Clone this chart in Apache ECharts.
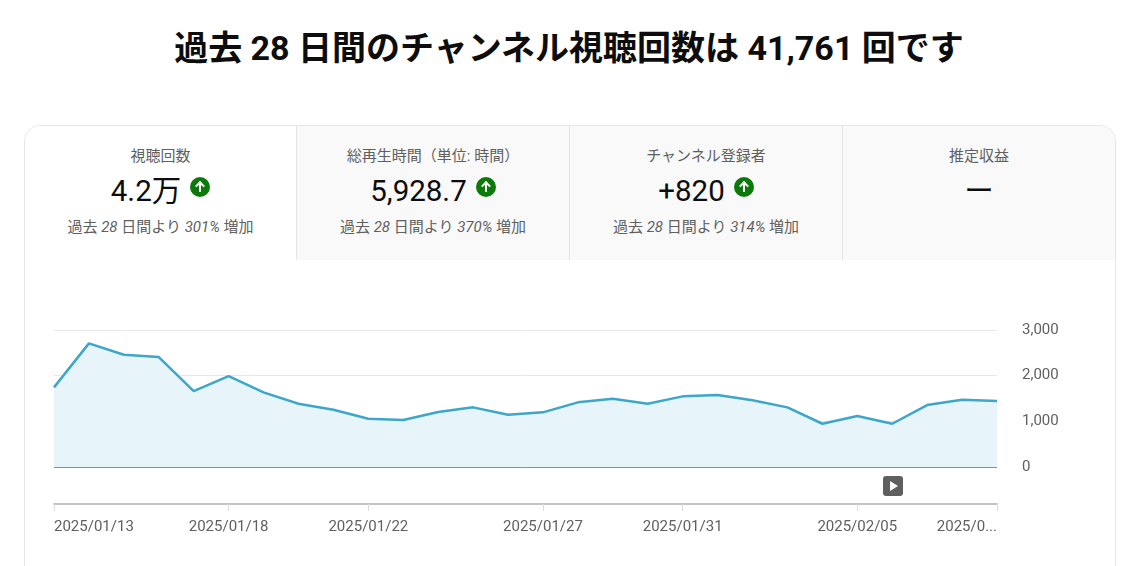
<!DOCTYPE html>
<html>
<head>
<meta charset="utf-8">
<script src="https://cdn.jsdelivr.net/npm/echarts@6/dist/echarts.min.js"></script>
<style>
	body{
		margin:0;
		width:1131px;
		height:566px;
		overflow:hidden;
		background:#fff;
		font-family:Roboto,"Noto Sans CJK JP",sans-serif;
		position:relative;
	}
	.page-title{
		position:absolute;
		left:0;
		top:26px;
		width:1138px;
		text-align:center;
		font-size:34px;
		line-height:44px;
		font-weight:700;
		color:#0d0d0d;
	}
	.card{
		position:absolute;
		left:24px;
		top:125px;
		width:1090px;
		height:520px;
		border:1px solid #e5e5e5;
		border-radius:16px;
		overflow:hidden;
	}
	.tabs{
		display:flex;
		height:134px;
	}
	.tab{
		width:273px;
		position:relative;
		text-align:center;
		background:#f9f9f9;
		border-left:1px solid #e5e5e5;
		box-sizing:border-box;
	}
	.tab.active{
		width:271px;
		background:#fff;
		border-left:none;
	}
	.tab .label{
		position:absolute;
		left:0;right:0;
		top:20px;
		font-size:15px;
		line-height:20px;
		color:#606060;
	}
	.tab .value{
		position:absolute;
		left:0;right:0;
		top:47px;
		font-size:29.5px;
		line-height:36px;
		color:#0d0d0d;
	}
	.tab .up{
		display:inline-block;
		width:20px;
		height:20px;
		border-radius:50%;
		background:#0b7a0b;
		vertical-align:4px;
		margin-left:9px;
		position:relative;
	}
	.tab .up:before{
		content:"";
		position:absolute;
		left:9px;top:6px;
		width:2px;height:9px;
		background:#fff;
	}
	.tab .up:after{
		content:"";
		position:absolute;
		width:5px;height:5px;
		border-left:2px solid #fff;
		border-top:2px solid #fff;
		transform:rotate(45deg);
		transform-origin:0 0;
		left:10px;top:4px;
	}
	.tab .sub{
		position:absolute;
		left:0;right:0;
		top:91px;
		font-size:15px;
		line-height:20px;
		color:#606060;
	}
	.tab .sub i{
		font-style:italic;
	}
	#main{
		position:absolute;
		left:0;top:0;
		width:1131px;
		height:566px;
	}
</style>
</head>
<body>
<div class="page-title">過去 28 日間のチャンネル視聴回数は 41,761 回です</div>
<div class="card">
	<div class="tabs">
		<div class="tab active">
			<div class="label">視聴回数</div>
			<div class="value">4.2万<span class="up"></span></div>
			<div class="sub">過去 <i>28</i> 日間より <i>301%</i> 増加</div>
		</div>
		<div class="tab">
			<div class="label">総再生時間（単位: 時間）</div>
			<div class="value">5,928.7<span class="up"></span></div>
			<div class="sub">過去 <i>28</i> 日間より <i>370%</i> 増加</div>
		</div>
		<div class="tab">
			<div class="label">チャンネル登録者</div>
			<div class="value">+820<span class="up"></span></div>
			<div class="sub">過去 <i>28</i> 日間より <i>314%</i> 増加</div>
		</div>
		<div class="tab">
			<div class="label">推定収益</div>
			<div class="value">ー</div>
		</div>
	</div>
</div>
<div id="main"></div>
<script type="text/javascript">
// 日付（28日間）
var dates = [
	'2025/01/13','2025/01/14','2025/01/15','2025/01/16','2025/01/17','2025/01/18','2025/01/19',
	'2025/01/20','2025/01/21','2025/01/22','2025/01/23','2025/01/24','2025/01/25','2025/01/26',
	'2025/01/27','2025/01/28','2025/01/29','2025/01/30','2025/01/31','2025/02/01','2025/02/02',
	'2025/02/03','2025/02/04','2025/02/05','2025/02/06','2025/02/07','2025/02/08','2025/02/09'
];
// 視聴回数
var views = [
	1744, 2707, 2457, 2407, 1663, 1991, 1635,
	1385, 1254, 1057, 1028, 1204, 1306, 1144,
	1197, 1416, 1495, 1385, 1547, 1575, 1460,
	1306, 947, 1116, 947, 1357, 1473, 1444
];
// 目盛りを出す日のindex
var tickIndex = [0, 5, 9, 14, 18, 23, 27];
var yTicks = [0, 1000, 2000, 3000];

var myChart = echarts.init(document.getElementById('main'));
var option = {
	animation: false,
	grid: {
		left: 54,
		right: 134,
		top: 330,
		bottom: 99
	},
	xAxis: {
		type: 'category',
		data: dates,
		boundaryGap: false,
		offset: 37,
		axisLine: {
			onZero: false,
			lineStyle: { color: '#c4c4c4', width: 2 }
		},
		axisTick: {
			interval: function(i){ return tickIndex.indexOf(i) >= 0; },
			length: 7,
			lineStyle: { color: '#dcdcdc', width: 1 }
		},
		axisLabel: {
			interval: function(i){ return tickIndex.indexOf(i) >= 0; },
			margin: 16,
			color: '#606060',
			fontSize: 15,
			fontFamily: 'Roboto',
			alignMinLabel: 'left',
			alignMaxLabel: 'right',
			formatter: function(v, i){
				if(i == dates.length - 1){
					return v.substring(0, 6) + '...';
				}
				return v;
			}
		},
		splitLine: { show: false }
	},
	yAxis: {
		type: 'value',
		position: 'right',
		min: yTicks[0],
		max: yTicks[yTicks.length - 1],
		interval: 1000,
		axisLine: { show: false },
		axisTick: { show: false },
		axisLabel: {
			margin: 25,
			align: 'left',
			color: '#606060',
			fontSize: 15,
			fontFamily: 'Roboto',
			formatter: function(v){ return v.toLocaleString('en-US'); }
		},
		splitLine: {
			lineStyle: { color: '#e8e8e8', width: 1 }
		}
	},
	series: [
		{
			name: '視聴回数',
			type: 'line',
			data: views,
			symbol: 'none',
			lineStyle: { color: '#3ea6c9', width: 2.5 },
			areaStyle: { color: '#e7f5fb', opacity: 1 },
			markLine: {
				silent: true,
				symbol: 'none',
				label: { show: false },
				lineStyle: { color: '#8e8e8e', width: 1, type: 'solid' },
				data: [ { yAxis: 0 } ]
			}
		}
	],
	graphic: [
		{
			type: 'rect',
			left: 883, top: 476,
			shape: { width: 20, height: 20, r: 3 },
			style: { fill: '#5f5f5f' }
		},
		{
			type: 'polygon',
			shape: { points: [[890, 481], [890, 491], [898, 486]] },
			style: { fill: '#fff' }
		}
	]
};
myChart.setOption(option);
</script>
</body>
</html>
